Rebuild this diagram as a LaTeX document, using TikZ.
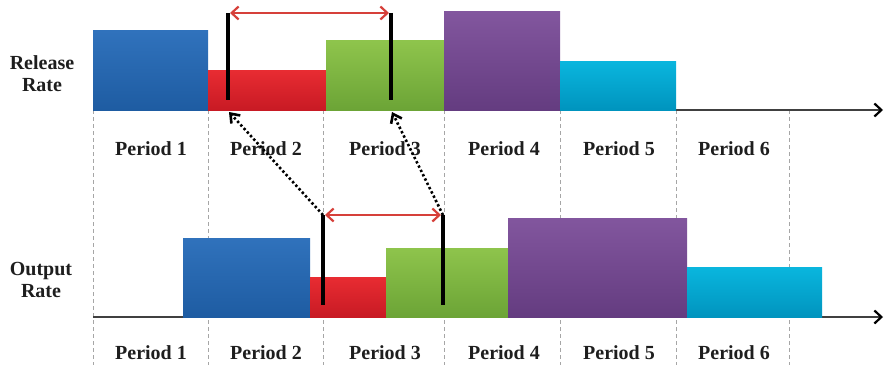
\documentclass[tikz,border=0pt]{standalone}
\usepackage{fontspec}
\setmainfont{Liberation Serif}
\usepackage{xcolor}
\usepackage{tikz}
\usetikzlibrary{arrows.meta}

\definecolor{blueTop}{RGB}{48,114,188}
\definecolor{blueBot}{RGB}{30,92,162}
\definecolor{redTop}{RGB}{232,44,50}
\definecolor{redBot}{RGB}{200,26,36}
\definecolor{greenTop}{RGB}{142,196,76}
\definecolor{greenBot}{RGB}{108,164,54}
\definecolor{purpleTop}{RGB}{130,86,158}
\definecolor{purpleBot}{RGB}{100,60,128}
\definecolor{cyanTop}{RGB}{10,182,222}
\definecolor{cyanBot}{RGB}{0,148,190}
\definecolor{spanRed}{RGB}{214,64,58}
\definecolor{labelInk}{RGB}{30,30,30}

\begin{document}
\begin{tikzpicture}[
			x=1pt, y=-1pt,
			every node/.style={font=\fontsize{20}{22}\selectfont\bfseries, text=labelInk},
			bar/.style={rectangle, anchor=south west, inner sep=0pt, outer sep=0pt, draw=none},
			bluebar/.style={bar, top color=blueTop, bottom color=blueBot},
			redbar/.style={bar, top color=redTop, bottom color=redBot},
			greenbar/.style={bar, top color=greenTop, bottom color=greenBot},
			purplebar/.style={bar, top color=purpleTop, bottom color=purpleBot},
			cyanbar/.style={bar, top color=cyanTop, bottom color=cyanBot},
			divider/.style={gray!70, line width=1pt, dash pattern=on 4pt off 3pt},
			axis/.style={-{Straight Barb[black, length=7pt, width=13pt, line width=2.2pt]}, black!75, line width=1.6pt},
			marker/.style={black, line width=4pt},
			span/.style={{Straight Barb[length=7pt, width=13pt]}-{Straight Barb[length=7pt, width=13pt]}, spanRed, line width=2.2pt},
			link/.style={-{Straight Barb[length=8pt, width=12pt]}, black, line width=2.6pt, dash pattern=on 2.4pt off 2.4pt}
		]

		\useasboundingbox (0,0) rectangle (885,369);

		% period dividers
		\draw[divider] (93,110) -- (93,365);
		\draw[divider] (208,110) -- (208,365);
		\draw[divider] (323,110) -- (323,365);
		\draw[divider] (444,110) -- (444,365);
		\draw[divider] (560,110) -- (560,365);
		\draw[divider] (676,110) -- (676,365);
		\draw[divider] (789,110) -- (789,365);

		% axes
		\draw[axis] (93,110) -- (883,110);
		\draw[axis] (93,317) -- (883,317);

		% release rate bars
		\node (rel1) [bluebar, minimum width=115pt, minimum height=79pt] at (93,110) {};
		\node (rel2) [redbar, minimum width=118pt, minimum height=40pt] at (208,110) {};
		\node (rel3) [greenbar, minimum width=118pt, minimum height=69pt] at (326,110) {};
		\node (rel4) [purplebar, minimum width=116pt, minimum height=98pt] at (444,110) {};
		\node (rel5) [cyanbar, minimum width=116pt, minimum height=49pt] at (560,110) {};

		% output rate bars
		\node (out1) [bluebar, minimum width=127pt, minimum height=79pt] at (183,317) {};
		\node (out2) [redbar, minimum width=76pt, minimum height=40pt] at (310,317) {};
		\node (out3) [greenbar, minimum width=122pt, minimum height=69pt] at (386,317) {};
		\node (out4) [purplebar, minimum width=179pt, minimum height=99pt] at (508,317) {};
		\node (out5) [cyanbar, minimum width=135pt, minimum height=50pt] at (687,317) {};

		% row titles
		\node (reltitle) [align=center] at (42,74) {Release\\Rate};
		\node (outtitle) [align=center] at (41,280) {Output\\Rate};

		% period labels
		\node (rp1) at (151,149) {Period 1};
		\node (rp2) at (266,149) {Period 2};
		\node (rp3) at (385,149) {Period 3};
		\node (rp4) at (504,149) {Period 4};
		\node (rp5) at (619,149) {Period 5};
		\node (rp6) at (734,149) {Period 6};
		\node (op1) at (151,353) {Period 1};
		\node (op2) at (266,353) {Period 2};
		\node (op3) at (385,353) {Period 3};
		\node (op4) at (504,353) {Period 4};
		\node (op5) at (619,353) {Period 5};
		\node (op6) at (734,353) {Period 6};

		% markers
		\coordinate (relA) at (228,13);
		\coordinate (relAfoot) at (228,100);
		\coordinate (relAbase) at (229,112);
		\coordinate (relB) at (391,13);
		\coordinate (relBfoot) at (391,100);
		\coordinate (relBbase) at (392,112);
		\coordinate (outA) at (323,215);
		\coordinate (outAfoot) at (323,305);
		\coordinate (outB) at (443,215);
		\coordinate (outBfoot) at (443,305);

		\draw[marker] (relA) -- (relAfoot);
		\draw[marker] (relB) -- (relBfoot);
		\draw[marker] (outA) -- (outAfoot);
		\draw[marker] (outB) -- (outBfoot);

		% arrows
		\draw[span, shorten <=2pt, shorten >=2pt] (relA) -- (relB);
		\draw[span, shorten <=2pt, shorten >=2pt] (outA) -- (outB);
		\draw[link] (outA) -- (relAbase);
		\draw[link] (outB) -- (relBbase);
	\end{tikzpicture}
\end{document}
